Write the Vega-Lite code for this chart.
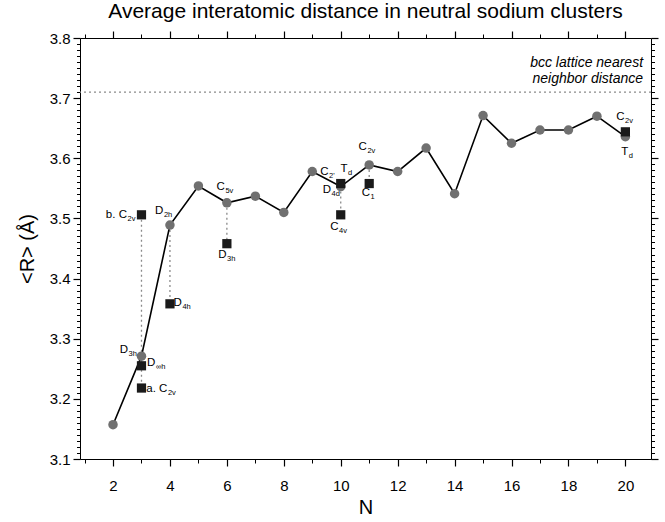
{
  "$schema": "https://vega.github.io/schema/vega-lite/v6.json",
  "width": 571,
  "height": 421,
  "autosize": {"type": "none"},
  "padding": {"left": 80, "top": 38, "right": 14, "bottom": 63},
  "background": "white",
  "title": {"text": "Average interatomic distance in neutral sodium clusters", "fontSize": 21, "font": "Liberation Sans", "fontWeight": "normal", "color": "black", "anchor": "middle", "offset": 8},
  "config": {"view": {"stroke": "black", "strokeWidth": 1}, "font": "Liberation Sans"},
  "datasets": {
    "circles": [
      {"N": 2, "R": 3.157}, {"N": 3, "R": 3.271}, {"N": 4, "R": 3.489}, {"N": 5, "R": 3.554},
      {"N": 6, "R": 3.526}, {"N": 7, "R": 3.537}, {"N": 8, "R": 3.510}, {"N": 9, "R": 3.578},
      {"N": 10, "R": 3.553}, {"N": 11, "R": 3.589}, {"N": 12, "R": 3.578}, {"N": 13, "R": 3.617},
      {"N": 14, "R": 3.541}, {"N": 15, "R": 3.671}, {"N": 16, "R": 3.625}, {"N": 17, "R": 3.647},
      {"N": 18, "R": 3.647}, {"N": 19, "R": 3.670}, {"N": 20, "R": 3.636}
    ],
    "squares": [
      {"N": 3, "R": 3.506}, {"N": 3, "R": 3.255}, {"N": 3, "R": 3.218}, {"N": 4, "R": 3.358},
      {"N": 6, "R": 3.458}, {"N": 10, "R": 3.558}, {"N": 10, "R": 3.506}, {"N": 11, "R": 3.558},
      {"N": 20, "R": 3.644}
    ],
    "dotted": [
      {"N": 3, "R1": 3.506, "R2": 3.218}, {"N": 4, "R1": 3.489, "R2": 3.358},
      {"N": 6, "R1": 3.526, "R2": 3.458}, {"N": 10, "R1": 3.553, "R2": 3.506},
      {"N": 11, "R1": 3.589, "R2": 3.558}
    ],
    "labels": [
      {"N": 2.49, "R": 3.506, "main": "b. C", "sub": "2v"},
      {"N": 3.77, "R": 3.513, "main": "D", "sub": "2h"},
      {"N": 4.42, "R": 3.360, "main": "D", "sub": "4h"},
      {"N": 2.53, "R": 3.282, "main": "D", "sub": "3h"},
      {"N": 3.49, "R": 3.259, "main": "D", "sub": "∞h"},
      {"N": 3.91, "R": 3.217, "main": "a. C", "sub": "2v"},
      {"N": 5.93, "R": 3.552, "main": "C", "sub": "5v"},
      {"N": 5.99, "R": 3.439, "main": "D", "sub": "3h"},
      {"N": 9.57, "R": 3.578, "main": "C", "sub": "2'"},
      {"N": 10.24, "R": 3.583, "main": "T", "sub": "d"},
      {"N": 9.66, "R": 3.547, "main": "D", "sub": "4d"},
      {"N": 9.92, "R": 3.486, "main": "C", "sub": "4v"},
      {"N": 10.92, "R": 3.619, "main": "C", "sub": "2v"},
      {"N": 11.03, "R": 3.542, "main": "C", "sub": "1"},
      {"N": 19.97, "R": 3.669, "main": "C", "sub": "2v"},
      {"N": 20.1, "R": 3.611, "main": "T", "sub": "d"}
    ],
    "bcc": [{"R": 3.71}],
    "bcctext": [{"N": 20.62, "R": 3.758, "t": "bcc lattice nearest\nneighbor distance"}]
  },
  "resolve": {"axis": {"x": "independent", "y": "independent"}},
  "layer": [
    {
      "data": {"name": "dotted"},
      "mark": {"type": "rule", "color": "#8a8a8a", "strokeWidth": 1.3, "strokeDash": [2, 3]},
      "encoding": {
        "x": {"field": "N", "type": "quantitative", "scale": {"domain": [0.84, 20.9], "nice": false, "zero": false},
          "axis": {"orient": "bottom", "values": [2,4,6,8,10,12,14,16,18,20],
            "tickSize": 7, "domain": false, "ticks": true,
            "tickColor": "black", "tickWidth": 1.2,
            "labelFontSize": 15, "labelColor": "black", "labelPadding": 12, "labelFont": "Liberation Sans",
            "title": "N", "titleFontSize": 20, "titleFontWeight": "normal", "titleColor": "black", "titlePadding": 4, "titleFont": "Liberation Sans",
            "grid": false}},
        "y": {"field": "R1", "type": "quantitative", "scale": {"domain": [3.1, 3.8], "nice": false, "zero": false},
          "axis": {"orient": "left",
            "values": [3.1, 3.2, 3.3, 3.4, 3.5, 3.6, 3.7, 3.8],
            "format": ".1f",
            "tickSize": 7, "domain": false, "ticks": true,
            "tickColor": "black", "tickWidth": 1.2,
            "labelFontSize": 15, "labelColor": "black", "labelPadding": 3, "labelFont": "Liberation Sans",
            "title": "<R> (Å)", "titleFontSize": 20, "titleFontWeight": "normal", "titleColor": "black", "titlePadding": 12, "titleFont": "Liberation Sans",
            "grid": false}},
        "y2": {"field": "R2"}
      }
    },
    {
      "data": {"name": "bcc"},
      "mark": {"type": "rule", "color": "#8a8a8a", "strokeWidth": 1.3, "strokeDash": [2, 3]},
      "encoding": {
        "y": {"field": "R", "type": "quantitative", "axis": null}
      }
    },
    {
      "data": {"name": "circles"},
      "mark": {"type": "line", "color": "black", "strokeWidth": 1.6},
      "encoding": {
        "x": {"field": "N", "type": "quantitative",
          "axis": {"orient": "top", "values": [2,4,6,8,10,12,14,16,18,20],
            "labels": false, "title": null, "grid": false, "domain": false, "tickSize": 7, "ticks": true,
            "tickColor": "black", "tickWidth": 1.2}},
        "y": {"field": "R", "type": "quantitative",
          "axis": {"orient": "right", "values": [3.1, 3.2, 3.3, 3.4, 3.5, 3.6, 3.7, 3.8],
            "labels": false, "title": null, "grid": false, "domain": false, "tickSize": 7, "ticks": true,
            "tickColor": "black", "tickWidth": 1.2}}
      }
    },
    {
      "data": {"name": "circles"},
      "mark": {"type": "circle", "color": "#707070", "opacity": 1, "size": 90},
      "encoding": {
        "x": {"field": "N", "type": "quantitative",
          "axis": {"orient": "bottom", "values": [1,3,5,7,9,11,13,15,17,19],
            "labels": false, "title": null, "grid": false, "domain": false, "tickSize": 4, "ticks": true,
            "tickColor": "black", "tickWidth": 1}},
        "y": {"field": "R", "type": "quantitative",
          "axis": {"orient": "left",
            "values": [3.11,3.12,3.13,3.14,3.15,3.16,3.17,3.18,3.19,3.21,3.22,3.23,3.24,3.25,3.26,3.27,3.28,3.29,3.31,3.32,3.33,3.34,3.35,3.36,3.37,3.38,3.39,3.41,3.42,3.43,3.44,3.45,3.46,3.47,3.48,3.49,3.51,3.52,3.53,3.54,3.55,3.56,3.57,3.58,3.59,3.61,3.62,3.63,3.64,3.65,3.66,3.67,3.68,3.69,3.71,3.72,3.73,3.74,3.75,3.76,3.77,3.78,3.79],
            "labels": false, "title": null, "grid": false, "domain": false, "tickSize": 3.5, "ticks": true,
            "tickColor": "black", "tickWidth": 1}}
      }
    },
    {
      "data": {"name": "squares"},
      "mark": {"type": "square", "color": "#1a1a1a", "opacity": 1, "filled": true, "size": 85},
      "encoding": {
        "x": {"field": "N", "type": "quantitative",
          "axis": {"orient": "top", "values": [1,3,5,7,9,11,13,15,17,19],
            "labels": false, "title": null, "grid": false, "domain": false, "tickSize": 4, "ticks": true,
            "tickColor": "black", "tickWidth": 1}},
        "y": {"field": "R", "type": "quantitative",
          "axis": {"orient": "right",
            "values": [3.11,3.12,3.13,3.14,3.15,3.16,3.17,3.18,3.19,3.21,3.22,3.23,3.24,3.25,3.26,3.27,3.28,3.29,3.31,3.32,3.33,3.34,3.35,3.36,3.37,3.38,3.39,3.41,3.42,3.43,3.44,3.45,3.46,3.47,3.48,3.49,3.51,3.52,3.53,3.54,3.55,3.56,3.57,3.58,3.59,3.61,3.62,3.63,3.64,3.65,3.66,3.67,3.68,3.69,3.71,3.72,3.73,3.74,3.75,3.76,3.77,3.78,3.79],
            "labels": false, "title": null, "grid": false, "domain": false, "tickSize": 3.5, "ticks": true,
            "tickColor": "black", "tickWidth": 1}}
      }
    },
    {
      "data": {"name": "labels"},
      "mark": {"type": "text", "align": "right", "baseline": "middle", "fontSize": 11.5, "color": "black", "font": "Liberation Sans"},
      "encoding": {
        "x": {"field": "N", "type": "quantitative", "axis": null},
        "y": {"field": "R", "type": "quantitative", "axis": null},
        "text": {"field": "main", "type": "nominal"}
      }
    },
    {
      "data": {"name": "labels"},
      "mark": {"type": "text", "align": "left", "baseline": "middle", "fontSize": 7.5, "dy": 4, "dx": 0.5, "color": "black", "font": "Liberation Sans"},
      "encoding": {
        "x": {"field": "N", "type": "quantitative", "axis": null},
        "y": {"field": "R", "type": "quantitative", "axis": null},
        "text": {"field": "sub", "type": "nominal"}
      }
    },
    {
      "data": {"name": "bcctext"},
      "mark": {"type": "text", "align": "right", "baseline": "middle", "fontSize": 14, "fontStyle": "italic", "lineBreak": "\n", "lineHeight": 16, "color": "black", "font": "Liberation Sans"},
      "encoding": {
        "x": {"field": "N", "type": "quantitative", "axis": null},
        "y": {"field": "R", "type": "quantitative", "axis": null},
        "text": {"field": "t", "type": "nominal"}
      }
    }
  ]
}
